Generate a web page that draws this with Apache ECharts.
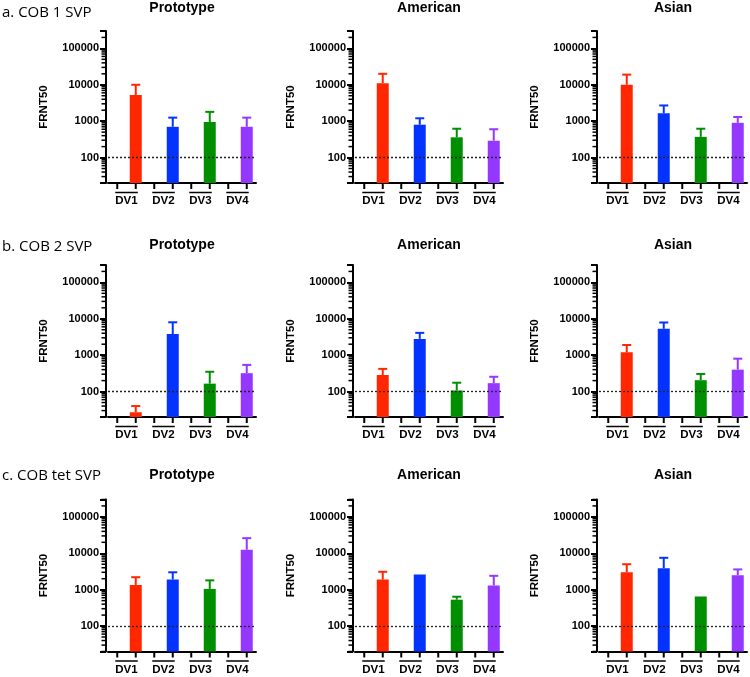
<!DOCTYPE html>
<html>
<head>
<meta charset="utf-8">
<script src="https://cdn.jsdelivr.net/npm/echarts@6/dist/echarts.min.js"></script>
<style>
  html, body { margin: 0; padding: 0; background: #fff; }
  #main { width: 750px; height: 677px; }
</style>
</head>
<body>
<div id="main"></div>
<script>
// 4 groups, each takes two x slots; the bar sits in the second one
var groups = ['DV1', 'DV2', 'DV3', 'DV4'];
var slots = ['DV1-', 'DV1+', 'DV2-', 'DV2+', 'DV3-', 'DV3+', 'DV4-', 'DV4+'];
var rowLabels = ['a. COB 1 SVP', 'b. COB 2 SVP', 'c. COB tet SVP'];
var panelTitles = ['Prototype', 'American', 'Asian'];
var yTicks = [100, 1000, 10000, 100000];
var barColors = ['#FF2600', '#0433FF', '#008F00', '#9437FF'];

// bar height (mean) and top of error bar, DV1..DV4
var cob1ProtoMean = [5200, 700, 950, 700];
var cob1ProtoErr = [10000, 1250, 1800, 1250];
var cob1AmerMean = [11000, 800, 360, 290];
var cob1AmerErr = [20000, 1200, 620, 600];
var cob1AsiaMean = [10000, 1650, 370, 900];
var cob1AsiaErr = [19000, 2700, 620, 1300];

var cob2ProtoMean = [27, 3800, 165, 320];
var cob2ProtoErr = [40, 8000, 350, 540];
var cob2AmerMean = [285, 2800, 107, 170];
var cob2AmerErr = [420, 4100, 175, 255];
var cob2AsiaMean = [1200, 5300, 205, 400];
var cob2AsiaErr = [1900, 7900, 305, 800];

var tetProtoMean = [1350, 1900, 1050, 12500];
var tetProtoErr = [2200, 3000, 1800, 26000];
var tetAmerMean = [1900, 2600, 530, 1300];
var tetAmerErr = [3100, null, 640, 2400];
var tetAsiaMean = [3000, 3900, 650, 2500];
var tetAsiaErr = [5000, 7500, null, 3600];

var panels = [
  [cob1ProtoMean, cob1ProtoErr], [cob1AmerMean, cob1AmerErr], [cob1AsiaMean, cob1AsiaErr],
  [cob2ProtoMean, cob2ProtoErr], [cob2AmerMean, cob2AmerErr], [cob2AsiaMean, cob2AsiaErr],
  [tetProtoMean, tetProtoErr], [tetAmerMean, tetAmerErr], [tetAsiaMean, tetAsiaErr]
];

var Y_MIN = 20, Y_MAX = 300000;
var colX = [106, 353, 597];
var rowTop = [31, 265, 499.5];
var titleY = [8, 245, 475];
var labelY = [13, 246.5, 476];
var boldFont = 'Liberation Sans, Arial, sans-serif';

// minor ticks 2..9 x 10^n
var minorVals = [];
for (var d = 10; d <= 100000; d *= 10) {
  for (var k = 2; k <= 9; k++) {
    if (k * d >= Y_MIN && k * d <= Y_MAX) minorVals.push([0, k * d]);
  }
}

function renderErr(params, api) {
  var x = api.value(0);
  var p0 = api.coord([x, api.value(1)]);
  var p1 = api.coord([x, api.value(2)]);
  var c = barColors[api.value(3)];
  return {
    type: 'group',
    children: [
      { type: 'line', shape: { x1: p0[0], y1: p0[1], x2: p1[0], y2: p1[1] }, style: { stroke: c, lineWidth: 2 } },
      { type: 'line', shape: { x1: p1[0] - 4.5, y1: p1[1], x2: p1[0] + 4.5, y2: p1[1] }, style: { stroke: c, lineWidth: 2 } }
    ]
  };
}

function renderMinor(params, api) {
  var y = api.coord([0, api.value(1)])[1];
  var x = params.coordSys.x - 2;
  return { type: 'line', shape: { x1: x - 4.5, y1: y, x2: x, y2: y }, style: { stroke: '#000', lineWidth: 1.5 } };
}

// x ticks at every slot, plus the bar above each DV pair
function renderXDeco(params, api) {
  var i = api.value(0);
  var xa = api.coord([i, Y_MIN])[0];
  var xb = api.coord([i + 1, Y_MIN])[0];
  var bottom = params.coordSys.y + params.coordSys.height;
  var y = bottom + 9.5;
  var tk = { stroke: '#000', lineWidth: 2 };
  return {
    type: 'group',
    children: [
      { type: 'line', shape: { x1: xa, y1: bottom, x2: xa, y2: bottom + 6 }, style: tk },
      { type: 'line', shape: { x1: xb, y1: bottom, x2: xb, y2: bottom + 6 }, style: tk },
      { type: 'line', shape: { x1: xa - 2, y1: y, x2: xb + 2, y2: y }, style: { stroke: '#000', lineWidth: 1.5 } }
    ]
  };
}

var grids = [], xAxes = [], yAxes = [], series = [], graphics = [];

for (var p = 0; p < 9; p++) {
  var r = Math.floor(p / 3), c = p % 3;
  var mean = panels[p][0], err = panels[p][1];

  grids.push({ left: colX[c] + 2, top: rowTop[r], width: 148, height: 152 });

  xAxes.push({
    type: 'category', gridIndex: p, data: slots, position: 'bottom',
    axisLine: { lineStyle: { color: '#000', width: 2 } },
    axisTick: { show: false },
    axisLabel: { show: false },
    splitLine: { show: false }
  });
  xAxes.push({
    type: 'category', gridIndex: p, data: groups, position: 'bottom', offset: 0,
    axisLine: { show: false }, axisTick: { show: false },
    axisLabel: { interval: 0, margin: 12, color: '#000', fontFamily: boldFont, fontWeight: 'bold', fontSize: 11.5 },
    splitLine: { show: false }
  });

  yAxes.push({
    type: 'log', logBase: 10, gridIndex: p, min: Y_MIN, max: Y_MAX, startValue: Y_MIN, offset: 2,
    name: 'FRNT50', nameLocation: 'middle', nameGap: 56,
    nameTextStyle: { color: '#000', fontFamily: boldFont, fontWeight: 'bold', fontSize: 11.5 },
    axisLine: { show: true, lineStyle: { color: '#000', width: 2 } },
    axisTick: { show: true, length: 6, lineStyle: { color: '#000', width: 2 } },
    axisLabel: {
      margin: 7, color: '#000', fontFamily: boldFont, fontWeight: 'bold', fontSize: 11,
      formatter: function (v) {
        for (var t = 0; t < yTicks.length; t++) {
          if (Math.abs(v - yTicks[t]) < 1e-6 * yTicks[t]) return String(yTicks[t]);
        }
        return '';
      }
    },
    splitLine: { show: false }
  });

  var barData = [], errData = [];
  for (var g = 0; g < groups.length; g++) {
    barData.push('-');
    barData.push({ value: mean[g], itemStyle: { color: barColors[g] } });
    if (err[g] != null) errData.push([2 * g + 1, mean[g], err[g], g]);
  }

  series.push({
    type: 'bar', xAxisIndex: 2 * p, yAxisIndex: p, data: barData, barWidth: 12,
    clip: true, silent: true, animation: false,
    markLine: {
      silent: true, symbol: 'none', label: { show: false },
      lineStyle: { color: '#222', type: [2, 2], width: 1.3 },
      data: [{ yAxis: 100 }]
    }
  });
  series.push({
    type: 'custom', xAxisIndex: 2 * p, yAxisIndex: p, data: errData,
    encode: { x: 0, y: [1, 2] }, renderItem: renderErr, clip: false, silent: true, animation: false
  });
  series.push({
    type: 'custom', xAxisIndex: 2 * p, yAxisIndex: p, data: minorVals,
    encode: { x: 0, y: 1 }, renderItem: renderMinor, clip: false, silent: true, animation: false
  });
  series.push({
    type: 'custom', xAxisIndex: 2 * p, yAxisIndex: p, data: [[0, Y_MIN], [2, Y_MIN], [4, Y_MIN], [6, Y_MIN]],
    encode: { x: 0, y: 1 }, renderItem: renderXDeco, clip: false, silent: true, animation: false
  });

  graphics.push({
    type: 'text', x: colX[c] + 2 + 74, y: titleY[r],
    style: { text: panelTitles[c], fill: '#000', font: 'bold 14px ' + boldFont, textAlign: 'center', textVerticalAlign: 'middle' }
  });
}

for (var rr = 0; rr < 3; rr++) {
  graphics.push({
    type: 'text', x: 2, y: labelY[rr],
    style: { text: rowLabels[rr], fill: '#000', font: '15px "Open Sans", sans-serif', textAlign: 'left', textVerticalAlign: 'middle' }
  });
}

var myChart = echarts.init(document.getElementById('main'));
myChart.setOption({
  animation: false,
  grid: grids,
  xAxis: xAxes,
  yAxis: yAxes,
  series: series,
  graphic: graphics
});
</script>
</body>
</html>
